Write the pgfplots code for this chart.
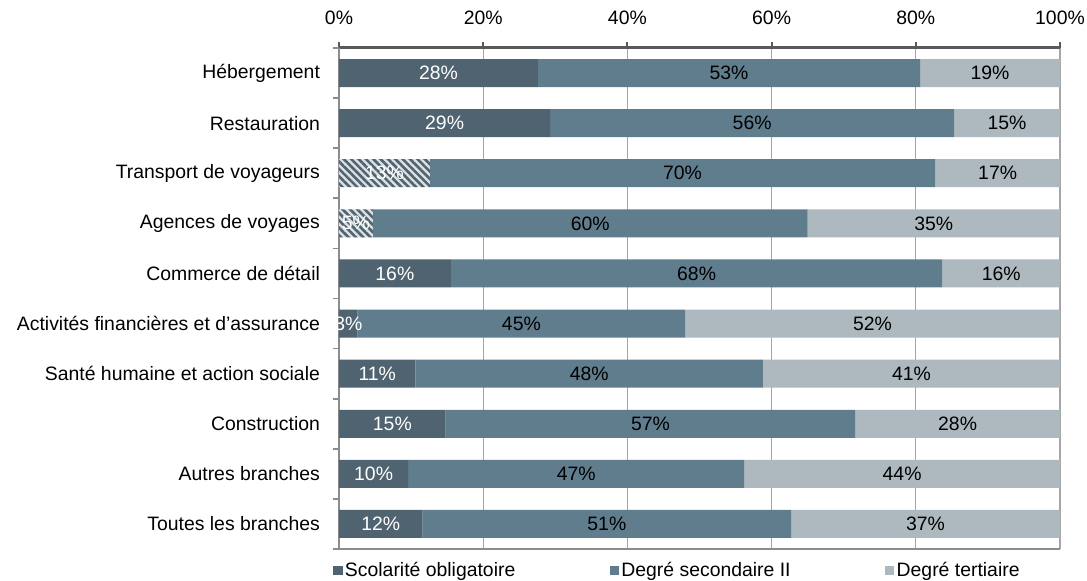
\documentclass[border=0pt]{standalone}
\usepackage{pgfplots}
\pgfplotsset{compat=1.18}
\usepackage{pgfplotstable}
\usepackage{fontspec}
\setmainfont{Liberation Sans}
\usetikzlibrary{patterns.meta}
\definecolor{darkseg}{HTML}{4F6370}
\definecolor{midseg}{HTML}{607D8D}
\definecolor{lightseg}{HTML}{AEB9BF}
\definecolor{topaxis}{HTML}{595959}
\definecolor{gridc}{HTML}{A6A6A6}
\definecolor{laxis}{HTML}{8C8C8C}
\newcommand{\fs}{\fontsize{9.7}{11.5}\selectfont}

\pgfplotstableread{
y dark hatch mid light
9 27.6 0 53.0 19.4
8 29.3 0 56.0 14.7
7 0 12.6 70.1 17.3
6 0 4.7 60.3 35.0
5 15.5 0 68.2 16.3
4 2.6 0 45.4 52.0
3 10.6 0 48.2 41.2
2 14.8 0 56.8 28.4
1 9.6 0 46.6 43.8
0 11.6 0 51.1 37.3
}\datatable

\pgfplotsset{
  seglabel/.style 2 args={
    point meta=\thisrow{#1},
    nodes near coords={\pgfmathfloatifflags{\pgfplotspointmeta}{0}{}{\pgfmathprintnumber[fixed,precision=0,assume math mode=true]{\pgfplotspointmeta}\%}},
    every node near coord/.style={anchor=center, font=\fs, text=#2},
  },
  sqlegend/.style={legend image code/.code={\fill[##1,draw=none] (0pt,-2.3pt) rectangle (4.6pt,2.3pt);}},
}

\begin{document}
\begin{tikzpicture}
\begin{axis}[
  name=ax,
  scale only axis, width=360.5pt, height=250.5pt,
  xbar stacked, bar width=14pt,
  xmin=0, xmax=100, ymin=-0.5, ymax=9.5,
  axis x line*=top, axis y line*=left,
  x axis line style={line width=1.5pt, color=topaxis, -},
  y axis line style={laxis, line width=0.8pt, -},
  xtick={0,20,...,100},
  xticklabel={\pgfmathprintnumber[assume math mode=true]{\tick}\%},
  xticklabel style={yshift=5pt},
  xtick style={topaxis, line width=1pt},
  major tick length=3pt,
  tick align=outside,
  xmajorgrids, grid style={gridc, line width=0.6pt},
  ytick={0,...,9},
  yticklabels={Toutes les branches, Autres branches, Construction, Santé humaine et action sociale, Activités financières et d’assurance, Commerce de détail, Agences de voyages, Transport de voyageurs, Restauration, Hébergement},
  ytick style={draw=none},
  extra y ticks={-0.5,0.5,...,9.5},
  extra y tick labels={},
  extra y tick style={ytick style={draw=laxis, line width=0.8pt}},
  yticklabel style={xshift=-3pt},
  tick label style={font=\fs, text=black},
  legend columns=3,
  legend style={draw=none, fill=none, at={(rel axis cs:0,0)}, anchor=north west,
    xshift=-3pt, yshift=-5pt, font=\fs, inner sep=0pt,
    nodes={inner sep=1.2pt},
    /tikz/every even column/.append style={column sep=46pt}},
]
\addplot[fill=darkseg, draw=none, sqlegend, seglabel={dark}{white}] table[x=dark, y=y] {\datatable};
\addlegendentry{Scolarité obligatoire}
\addplot[forget plot, fill=white!80!darkseg, draw=none,
  postaction={pattern={Lines[angle=-45,distance=2.6pt,line width=1.3pt]}, pattern color=darkseg},
  seglabel={hatch}{white}] table[x=hatch, y=y] {\datatable};
\addplot[fill=midseg, draw=none, sqlegend, seglabel={mid}{black}] table[x=mid, y=y] {\datatable};
\addlegendentry{Degré secondaire II}
\addplot[fill=lightseg, draw=none, sqlegend, seglabel={light}{black}] table[x=light, y=y] {\datatable};
\addlegendentry{Degré tertiaire}
\draw[laxis, line width=0.8pt] (rel axis cs:0,0) -- (rel axis cs:1,0);
\end{axis}
\pgfresetboundingbox
\path[use as bounding box] ([xshift=-169.5pt,yshift=-15.5pt]ax.south west) rectangle ([xshift=13.5pt,yshift=24pt]ax.north east);
\end{tikzpicture}
\end{document}
